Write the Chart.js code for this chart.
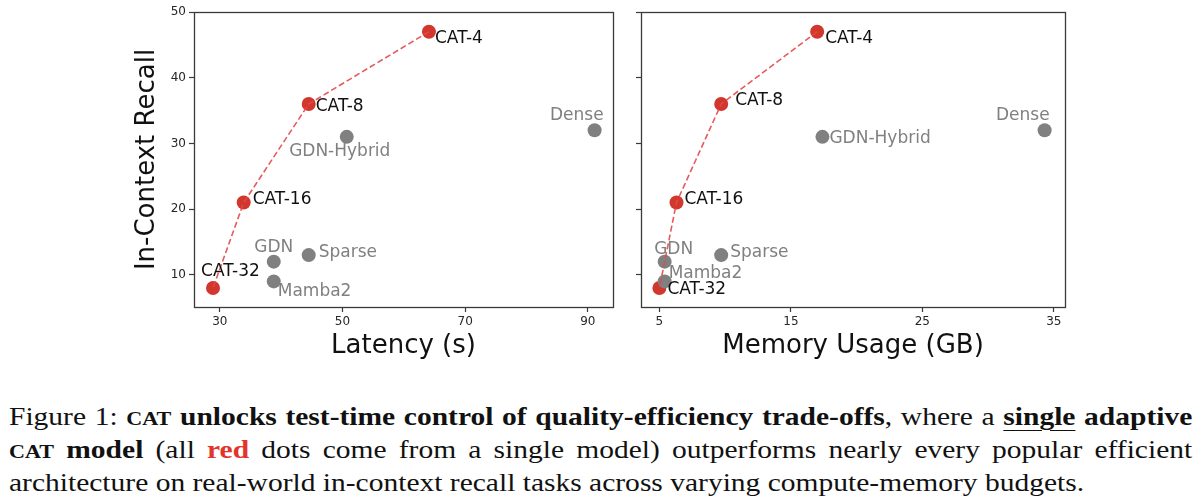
<!DOCTYPE html>
<html>
<head>
<meta charset="utf-8">
<script src="https://cdn.jsdelivr.net/npm/chart.js@4.4.1/dist/chart.umd.min.js"></script>
<style>
body{margin:0;background:#fff;width:1200px;height:500px;overflow:hidden;position:relative}
#c1{position:absolute;left:0;top:0;width:620px;height:380px}
#c2{position:absolute;left:620px;top:0;width:580px;height:380px}
#caption{position:absolute;left:9px;top:401px;font-family:"Liberation Serif","Times New Roman",serif;font-size:26px;line-height:31px;color:#111;transform-origin:0 0;transform:scaleX(1.135)}
.ln{display:inline-block;white-space:nowrap}
.sc{font-size:0.75em}
.red{color:#e3342b}
u{text-decoration-thickness:1px;text-underline-offset:5px}
</style>
</head>
<body>
<canvas id="c1" width="620" height="380"></canvas>
<canvas id="c2" width="580" height="380"></canvas>
<div id="caption">
<div><span class="ln just">Figure 1: <b><span class="sc">CAT</span> unlocks test-time control of quality-efficiency trade-offs</b>, where a <b><u>single</u> adaptive</b></span></div>
<div><span class="ln just"><b><span class="sc">CAT</span> model</b> (all <b class="red">red</b> dots come from a single model) outperforms nearly every popular efficient</span></div>
<div><span class="ln">architecture on real-world in-context recall tasks across varying compute-memory budgets.</span></div>
</div>
<script>
// CAT points (one adaptive model), in line order
var catNames = ['CAT-4', 'CAT-8', 'CAT-16', 'CAT-32'];
var catRecall = [47, 36, 21, 8];
var catLatency = [64.1, 44.5, 33.9, 28.9];
var catMemory = [17.0, 9.7, 6.3, 5.0];

// baseline architectures
var baseNames = ['GDN-Hybrid', 'Dense', 'GDN', 'Sparse', 'Mamba2'];
var baseRecall = [31, 32, 12, 13, 9];
var baseLatency = [50.7, 91.1, 38.8, 44.5, 38.8];
var baseMemory = [17.4, 34.3, 5.4, 9.7, 5.4];

var recallTicks = [10, 20, 30, 40, 50];
var latencyTicks = [30, 50, 70, 90];
var memoryTicks = [5, 15, 25, 35];

// label placement in px from the dot: [dx, dy, align]
var latCatLab = [[6, 7, 'left'], [7, 3, 'left'], [9, -3, 'left'], [-12, -16, 'left']];
var latBaseLab = [[-7, 15, 'center'], [9, -15, 'right'], [0, -14, 'center'], [10, -3, 'left'], [4, 10, 'left']];
var memCatLab = [[8, 7, 'left'], [14, -3, 'left'], [8, -3, 'left'], [8, 2, 'left']];
var memBaseLab = [[7, 2, 'left'], [5, -15, 'right'], [9, -12, 'center'], [9, -3, 'left'], [4, -8, 'left']];

var RED = '#d1372d';
var GREY = '#808080';
var SPINE = '#3a3a3a';
var FONT = '"DejaVu Sans", sans-serif';

function pts(xs, ys) {
    return xs.map(function (x, i) { return {x: x, y: ys[i]}; });
}

// text next to every dot
var labelPlugin = {
    id: 'dotLabels',
    afterDatasetsDraw: function (chart) {
        var ctx = chart.ctx;
        ctx.save();
        ctx.font = '17px ' + FONT;
        ctx.textBaseline = 'middle';
        chart.data.datasets.forEach(function (ds, di) {
            if (!ds.names) return;
            var meta = chart.getDatasetMeta(di);
            meta.data.forEach(function (p, i) {
                var lab = ds.labelPos[i];
                ctx.fillStyle = ds.labelColor;
                ctx.textAlign = lab[2];
                ctx.fillText(ds.names[i], p.x + lab[0], p.y + lab[1]);
            });
        });
        ctx.restore();
    }
};

// box round the plot, like matplotlib spines
var framePlugin = {
    id: 'frame',
    afterDraw: function (chart) {
        var a = chart.chartArea, ctx = chart.ctx;
        ctx.save();
        ctx.strokeStyle = SPINE;
        ctx.lineWidth = 1.3;
        ctx.strokeRect(Math.round(a.left) + 0.5, Math.round(a.top) + 0.5,
            Math.round(a.right - a.left), Math.round(a.bottom - a.top));
        ctx.restore();
    }
};

function makeChart(id, catX, baseX, xTicks, xMin, xMax, xTitle, catLab, baseLab, side) {
    var ctx = document.getElementById(id).getContext('2d');
    return new Chart(ctx, {
        type: 'scatter',
        data: {
            datasets: [{
                // red dots first, grey ones over them, dashed line on top
                data: pts(catX, catRecall),
                names: catNames,
                labelPos: catLab,
                labelColor: '#111',
                pointRadius: 7,
                pointBackgroundColor: RED,
                pointBorderWidth: 0,
                order: 3
            }, {
                data: pts(baseX, baseRecall),
                names: baseNames,
                labelPos: baseLab,
                labelColor: GREY,
                pointRadius: 7,
                pointBackgroundColor: GREY,
                pointBorderWidth: 0,
                order: 2
            }, {
                data: pts(catX, catRecall),
                showLine: true,
                borderColor: 'rgba(228,72,72,0.9)',
                borderWidth: 1.6,
                borderDash: [6, 3],
                pointRadius: 0,
                order: 1
            }]
        },
        options: {
            responsive: false,
            animation: false,
            events: [],
            devicePixelRatio: 1,
            layout: {padding: {left: 0, right: side.padRight, top: 12, bottom: 0}},
            plugins: {legend: {display: false}, tooltip: {enabled: false}},
            scales: {
                x: {
                    type: 'linear',
                    min: xMin,
                    max: xMax,
                    afterBuildTicks: function (s) { s.ticks = xTicks.map(function (v) { return {value: v}; }); },
                    afterFit: function (s) { s.height = 73; },
                    grid: {drawOnChartArea: false, drawTicks: true, tickLength: 5, tickColor: SPINE, tickWidth: 1.2},
                    border: {display: false},
                    ticks: {font: {family: FONT, size: 12}, color: '#262626', padding: 3, maxRotation: 0},
                    title: {display: true, text: xTitle, font: {family: FONT, size: 26}, color: '#111', padding: {top: 0, bottom: 18}}
                },
                y: {
                    type: 'linear',
                    min: 5.1,
                    max: 50,
                    afterBuildTicks: function (s) { s.ticks = recallTicks.map(function (v) { return {value: v}; }); },
                    afterFit: function (s) { s.width = side.yWidth; },
                    grid: {drawOnChartArea: false, drawTicks: true, tickLength: 5, tickColor: SPINE, tickWidth: 1.2},
                    border: {display: false},
                    ticks: {
                        font: {family: FONT, size: 12}, color: '#262626', padding: 3,
                        callback: function (v) { return side.yLabels ? String(v) : ''; }
                    },
                    title: {display: side.yLabels, text: 'In-Context Recall', font: {family: FONT, size: 26}, color: '#111', padding: {top: 132, bottom: 0}}
                }
            }
        },
        plugins: [labelPlugin, framePlugin]
    });
}

makeChart('c1', catLatency, baseLatency, latencyTicks, 25.8, 94.1, 'Latency (s)', latCatLab, latBaseLab,
    {padRight: 3, yWidth: 194, yLabels: true});
makeChart('c2', catMemory, baseMemory, memoryTicks, 3.6, 35.85, 'Memory Usage (GB)', memCatLab, memBaseLab,
    {padRight: 135, yWidth: 21, yLabels: false});

// spread the first two caption lines to the full width
var scale = 1.135;
var target = 1183 / scale;
document.querySelectorAll('.just').forEach(function (el) {
    var spaces = (el.textContent.match(/ /g) || []).length;
    var w = el.offsetWidth;
    if (spaces > 0) el.style.wordSpacing = ((target - w) / spaces) + 'px';
});
</script>
</body>
</html>
